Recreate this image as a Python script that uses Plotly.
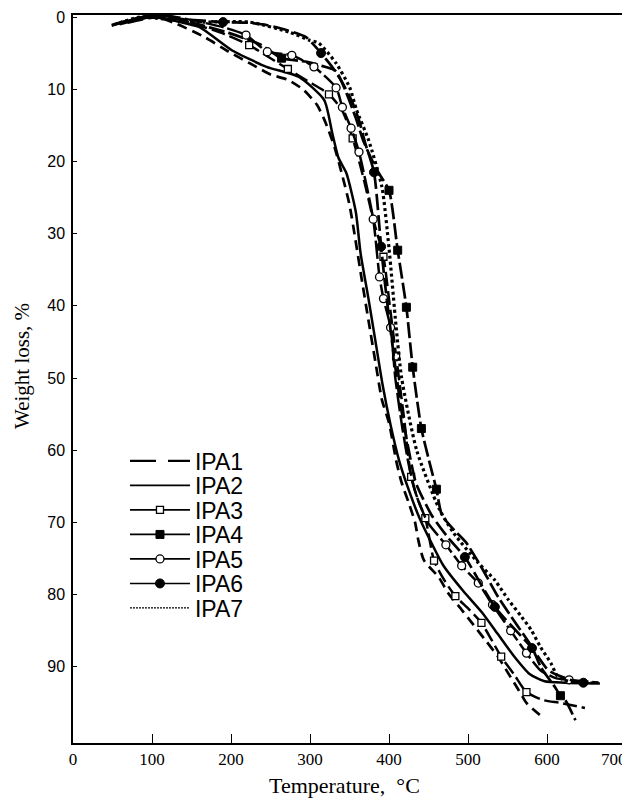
import plotly.graph_objects as go

# ---- data (Temperature °C, Weight loss %) ----
ipa1_T = [54, 79, 104, 128, 167, 197, 227, 251, 272, 292, 309, 320, 331, 341, 350, 357, 365, 374, 383, 391,
          400, 409, 416, 425, 433, 437, 444, 463, 475, 492, 507, 522, 538, 551, 564, 574, 588, 595]
ipa1_W = [1.0, 0.3, 0.0, 0.8, 2.8, 4.8, 6.6, 8.0, 8.7, 10.1, 12.2, 14.7, 18.0, 22.0, 26.0, 30.5, 36.0, 42.0, 47.9, 53.0,
          56.2, 61.4, 64.5, 67.3, 70.0, 72.4, 75.2, 77.6, 79.8, 82.1, 84.2, 86.3, 88.6, 90.9, 93.2, 95.0, 96.4, 97.0]

ipa2_T = [49, 74, 99, 128, 160, 201, 245, 286, 318, 328, 336, 346, 358, 364, 374, 383, 392, 402, 413, 425,
          439, 454, 469, 494, 518, 538, 558, 578, 597, 622, 667]
ipa2_W = [1.2, 0.4, -0.2, 0.5, 1.4, 4.6, 6.9, 8.3, 11.5, 16.0, 19.5, 21.6, 27.0, 32.7, 39.0, 45.0, 51.0, 56.5, 61.5, 65.5,
          69.5, 72.9, 76.0, 79.5, 82.5, 85.5, 88.5, 91.0, 92.0, 92.2, 92.3]

ipa3_T = [59, 89, 114, 148, 188, 223, 247, 272, 296, 324, 341, 354, 367, 380, 393, 401, 409, 419, 428, 437,
          446, 457, 470, 484, 501, 517, 530, 542, 558, 574, 595, 617, 648]
ipa3_W = [1.0, 0.2, -0.2, 0.8, 2.2, 3.9, 5.5, 7.2, 8.8, 10.7, 13.0, 16.8, 22.0, 28.0, 33.2, 40.0, 47.0, 55.5, 63.7, 67.0,
          69.4, 75.3, 78.0, 80.2, 82.0, 83.9, 86.3, 88.6, 91.0, 93.5, 94.6, 95.0, 95.7]
ipa3_marks = [5, 7, 9, 11, 14, 16, 18, 20, 21, 23, 25, 27, 29]

ipa4_T = [49, 79, 109, 148, 197, 237, 264, 296, 316, 333, 346, 358, 367, 377, 387, 400, 411, 422, 430, 441,
          452, 460, 467, 482, 497, 517, 538, 560, 581, 592, 610, 617, 623, 636]
ipa4_W = [1.1, 0.2, -0.3, 0.7, 2.2, 3.8, 5.7, 6.2, 6.8, 7.5, 10.5, 14.0, 17.0, 19.5, 21.6, 24.0, 32.3, 40.2, 48.5, 57.0,
          62.0, 65.4, 69.0, 71.0, 72.7, 76.2, 80.3, 83.9, 87.3, 90.0, 92.8, 94.0, 94.6, 97.4]
ipa4_marks = [6, 15, 16, 17, 18, 19, 21, 31]

ipa5_T = [59, 89, 118, 158, 193, 219, 246, 277, 305, 333, 341, 352, 362, 380, 388, 393, 402, 408, 417, 425,
          434, 449, 472, 492, 513, 531, 554, 574, 592, 612, 628, 665]
ipa5_W = [0.9, 0.1, -0.2, 0.6, 1.5, 2.5, 4.8, 5.3, 6.9, 9.8, 12.5, 15.4, 18.7, 28.0, 36.0, 39.0, 43.0, 50.0, 57.0, 62.0,
          66.0, 70.0, 73.1, 76.0, 78.4, 81.4, 85.0, 88.1, 90.5, 91.6, 91.8, 92.2]
ipa5_marks = [5, 6, 7, 8, 9, 10, 11, 12, 13, 14, 15, 16, 22, 23, 24, 25, 26, 27, 30]

ipa6_T = [69, 99, 138, 190, 223, 245, 270, 295, 314, 328, 341, 354, 362, 370, 381, 390, 395, 405, 415, 425,
          434, 454, 474, 496, 534, 581, 602, 629, 646, 665]
ipa6_W = [0.8, 0.1, 0.3, 0.7, 0.8, 1.1, 1.8, 2.8, 5.0, 6.9, 9.1, 11.9, 14.3, 17.5, 21.5, 31.8, 37.0, 46.0, 54.0, 60.0,
          64.5, 69.0, 72.0, 74.8, 81.7, 87.4, 90.5, 91.8, 92.2, 92.2]
ipa6_marks = [3, 8, 14, 15, 23, 24, 25, 28]

ipa7_T = [59, 85, 118, 160, 223, 274, 299, 311, 333, 350, 359, 374, 391, 400, 409, 416, 435, 463, 482, 513,
          534, 551, 568, 580, 592, 605, 614, 633]
ipa7_W = [0.8, 0.0, 0.3, 0.7, 0.7, 2.1, 3.2, 3.6, 6.4, 9.7, 12.9, 17.0, 23.5, 32.0, 42.9, 50.0, 60.0, 68.0, 71.5, 75.6,
          78.0, 80.7, 83.1, 84.9, 87.3, 89.5, 91.4, 92.2]

names = ["IPA1", "IPA2", "IPA3", "IPA4", "IPA5", "IPA6", "IPA7"]
x_ticks = [0, 100, 200, 300, 400, 500, 600, 700]
x_tick_text = ["0", "100", "200", "300", "400", "500", "600", "700"]
y_ticks = [0, 10, 20, 30, 40, 50, 60, 70, 80, 90]
x_title = "Temperature,  °C"
y_title = "Weight loss, %"

series = [
    dict(name=names[0], T=ipa1_T, W=ipa1_W, dash="10px,6px", width=2.7, sym=None, marks=[],
         leg_dash="26px,12px", leg_w=2.2),
    dict(name=names[1], T=ipa2_T, W=ipa2_W, dash="solid", width=2.5, sym=None, marks=[],
         leg_dash="solid", leg_w=1.8),
    dict(name=names[2], T=ipa3_T, W=ipa3_W, dash="14px,5px", width=2.5,
         sym=dict(symbol="square", size=7, color="white", line=dict(color="black", width=1.3)), marks=ipa3_marks,
         leg_dash="solid", leg_w=1.8),
    dict(name=names[3], T=ipa4_T, W=ipa4_W, dash="16px,4px", width=2.7,
         sym=dict(symbol="square", size=8, color="black", line=dict(color="black", width=1)), marks=ipa4_marks,
         leg_dash="solid", leg_w=1.8),
    dict(name=names[4], T=ipa5_T, W=ipa5_W, dash="18px,4px", width=2.5,
         sym=dict(symbol="circle", size=8, color="white", line=dict(color="black", width=1.3)), marks=ipa5_marks,
         leg_dash="solid", leg_w=1.8),
    dict(name=names[5], T=ipa6_T, W=ipa6_W, dash="16px,5px", width=2.7,
         sym=dict(symbol="circle", size=9, color="black", line=dict(color="black", width=1)), marks=ipa6_marks,
         leg_dash="solid", leg_w=1.6),
    dict(name=names[6], T=ipa7_T, W=ipa7_W, dash="3px,3px", width=3.2, sym=None, marks=[],
         leg_dash="2px,1px", leg_w=1.3),
]

fig = go.Figure()
for s in series:
    fig.add_trace(go.Scatter(x=s["T"], y=s["W"], mode="lines", showlegend=False,
                             line=dict(color="black", width=s["width"], dash=s["dash"], shape="spline", smoothing=0.6)))
    if s["sym"] is not None:
        fig.add_trace(go.Scatter(x=[s["T"][i] for i in s["marks"]], y=[s["W"][i] for i in s["marks"]],
                                 mode="markers", showlegend=False, marker=s["sym"]))

# page has an 8px body margin: figure is 622x791, placed at (8, 8) in the window
plot_left_win, plot_w = 73, 553
plot_top_win, plot_h = 15, 728
legend_layout = {}
for k, s in enumerate(series):
    key = "legend" if k == 0 else f"legend{k + 1}"
    fig.add_trace(go.Scatter(x=[None], y=[None], name=s["name"], legend=key,
                             mode="lines+markers" if s["sym"] else "lines",
                             line=dict(color="black", width=s["leg_w"], dash=s["leg_dash"]),
                             marker=s["sym"] if s["sym"] else None))
    centre_win = 461 + 24.5 * k
    legend_layout[key] = dict(x=0.094, y=1 - (centre_win - plot_top_win) / plot_h, xanchor="left", yanchor="middle",
                              bgcolor="rgba(0,0,0,0)", borderwidth=0, itemwidth=60,
                              font=dict(family="Liberation Sans, Arial, sans-serif", size=23, color="black"))

serif = "Liberation Serif, Times New Roman, serif"
fig.add_annotation(text=x_title, xref="paper", yref="paper", showarrow=False,
                   x=(344.5 - plot_left_win) / plot_w, y=1 - (785 - plot_top_win) / plot_h,
                   xanchor="center", yanchor="middle", font=dict(family=serif, size=22, color="black"))
fig.add_annotation(text=y_title, xref="paper", yref="paper", showarrow=False, textangle=-90,
                   x=(22 - plot_left_win) / plot_w, y=1 - (366 - plot_top_win) / plot_h,
                   xanchor="center", yanchor="middle", font=dict(family=serif, size=21, color="black"))
# the last x tick label sits at the window's right edge: right-align it to the tick so it stays visible
fig.add_annotation(text=x_tick_text[-1], xref="x", yref="paper", showarrow=False,
                   x=x_ticks[-1], y=1 - (760 - plot_top_win) / plot_h, xanchor="right", yanchor="middle", xshift=3,
                   font=dict(family=serif, size=17, color="black"))

fig.update_layout(
    width=622, height=791,
    margin=dict(l=65, r=4, t=7, b=56),
    paper_bgcolor="white", plot_bgcolor="white",
    showlegend=True,
    xaxis=dict(range=[0, 700], tickvals=x_ticks, ticktext=x_tick_text[:-1] + [""], ticks="inside", ticklen=9,
               tickwidth=1, tickcolor="black", showline=True, linecolor="black", linewidth=1.5, mirror=True,
               showgrid=False, zeroline=False, automargin=False, ticklabeloverflow="allow",
               tickfont=dict(family=serif, size=17, color="black")),
    yaxis=dict(range=[100.55, -0.28], tickvals=y_ticks, ticks="inside", ticklen=4, tickwidth=1, tickcolor="black",
               showline=True, linecolor="black", linewidth=1.5, mirror=True, showgrid=False, zeroline=False,
               automargin=False, ticklabeloverflow="allow", ticklabelstandoff=3,
               tickfont=dict(family="Liberation Sans, Arial, sans-serif", size=16, color="black")),
    **legend_layout,
)

fig.write_html("out.html")
